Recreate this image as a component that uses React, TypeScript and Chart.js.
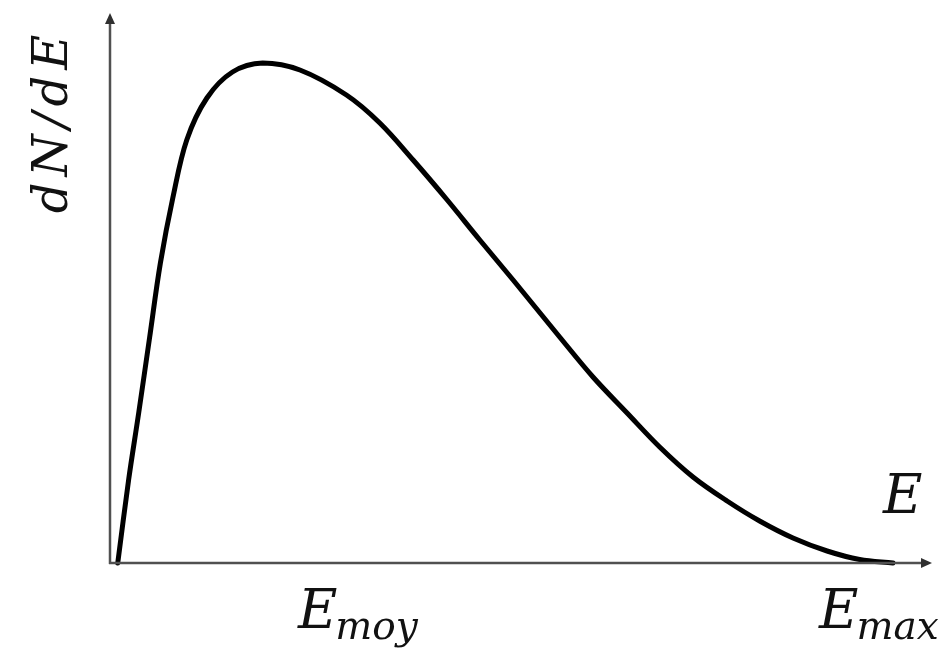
import React, { useEffect, useRef } from "react";
import { Chart, registerables } from "chart.js";

Chart.register(...registerables);

// Energy (fraction of E_max) and relative intensity dN/dE
const energy = [0, 0.014, 0.027, 0.041, 0.055, 0.071, 0.089, 0.115, 0.148, 0.187, 0.235, 0.295, 0.338, 0.381, 0.425, 0.467, 0.51, 0.57, 0.613, 0.657, 0.699, 0.742, 0.786, 0.828, 0.871, 0.915, 0.957, 1.0];
const intensity = [0, 0.166, 0.3, 0.45, 0.6, 0.73, 0.846, 0.93, 0.982, 1.0, 0.986, 0.936, 0.88, 0.806, 0.726, 0.646, 0.566, 0.452, 0.372, 0.3, 0.232, 0.172, 0.124, 0.084, 0.05, 0.024, 0.007, 0.0];

const yLabel = "dN/dE";
const xLabel = "E";
const tickLabels = [
  { value: 0.311, main: "E", sub: "moy" },
  { value: 0.983, main: "E", sub: "max" },
];

const FONT = '"DejaVu Serif", serif';

const axesPlugin = {
  id: "customAxes",
  afterDatasetsDraw(chart: any) {
    const { ctx, scales } = chart;
    const xs = scales.x;
    const ys = scales.y;
    const x0 = xs.getPixelForValue(xs.min);
    const y0 = ys.getPixelForValue(0);
    ctx.save();
    ctx.strokeStyle = "#505050";
    ctx.fillStyle = "#303030";
    ctx.lineWidth = 2.5;
    // y axis
    const yTop = 13;
    ctx.beginPath();
    ctx.moveTo(x0, y0 + 1);
    ctx.lineTo(x0, yTop + 8);
    ctx.stroke();
    ctx.beginPath();
    ctx.moveTo(x0, yTop);
    ctx.lineTo(x0 - 5, yTop + 11);
    ctx.lineTo(x0 + 5, yTop + 11);
    ctx.closePath();
    ctx.fill();
    // x axis
    const xEnd = 932;
    ctx.beginPath();
    ctx.moveTo(x0 - 1, y0);
    ctx.lineTo(xEnd - 8, y0);
    ctx.stroke();
    ctx.beginPath();
    ctx.moveTo(xEnd, y0);
    ctx.lineTo(xEnd - 11, y0 - 5);
    ctx.lineTo(xEnd - 11, y0 + 5);
    ctx.closePath();
    ctx.fill();

    ctx.fillStyle = "#111";
    // x axis name
    ctx.font = `italic 54px ${FONT}`;
    ctx.textAlign = "left";
    ctx.textBaseline = "alphabetic";
    ctx.fillText(xLabel, 883, 513);

    // tick labels
    for (const t of tickLabels) {
      const px = xs.getPixelForValue(t.value);
      ctx.font = `italic 54px ${FONT}`;
      const wMain = ctx.measureText(t.main).width;
      ctx.font = `italic 39px ${FONT}`;
      const wSub = ctx.measureText(t.sub).width;
      const start = px - (wMain + wSub) / 2;
      ctx.font = `italic 54px ${FONT}`;
      ctx.fillText(t.main, start, 628);
      ctx.font = `italic 39px ${FONT}`;
      ctx.fillText(t.sub, start + wMain - 2, 639);
    }

    // y axis name (rotated)
    ctx.save();
    ctx.translate(67, 121);
    ctx.rotate(-Math.PI / 2);
    ctx.font = `italic 48px ${FONT}`;
    (ctx as any).letterSpacing = "6px";
    ctx.textAlign = "center";
    ctx.fillText(yLabel, 0, 0);
    ctx.restore();
    ctx.restore();
  },
};

export default function App() {
  const canvasRef = useRef<HTMLCanvasElement>(null);
  useEffect(() => {
    if (!canvasRef.current) return;
    const chart = new Chart(canvasRef.current, {
      type: "line",
      data: {
        datasets: [
          {
            data: energy.map((e, i) => ({ x: e, y: intensity[i] })),
            borderColor: "#000",
            borderWidth: 5,
            pointRadius: 0,
            fill: false,
            tension: 0.35,
            clip: false as any,
            borderCapStyle: "round",
            borderJoinStyle: "round",
          },
        ],
      },
      options: {
        animation: false,
        responsive: true,
        maintainAspectRatio: false,
        layout: { padding: { left: 110, right: 57, top: 63, bottom: 88 } },
        plugins: { legend: { display: false }, tooltip: { enabled: false } },
        scales: {
          x: { type: "linear", min: -0.01, max: 1, display: false },
          y: { type: "linear", min: 0, max: 1, display: false },
        },
      },
      plugins: [axesPlugin],
    });
    return () => chart.destroy();
  }, []);
  return (
    <div style={{ position: "fixed", left: 0, top: 0, width: 950, height: 651, background: "#fff" }}>
      <canvas ref={canvasRef} />
    </div>
  );
}
